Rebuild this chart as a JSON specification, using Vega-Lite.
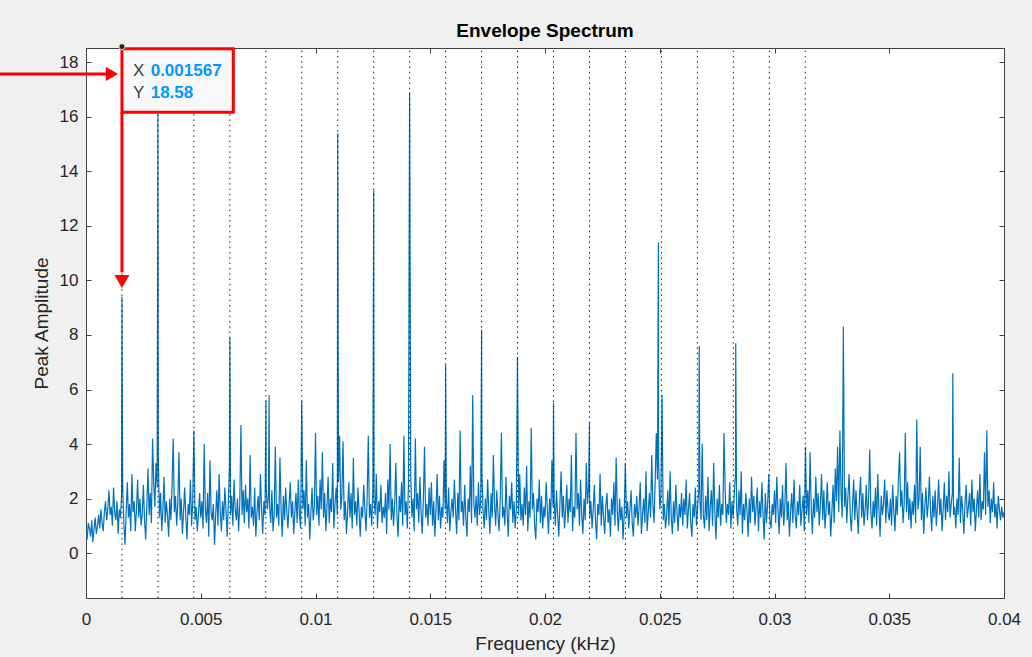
{
"$schema":"https://vega.github.io/schema/vega-lite/v6.json",
"width":918,"height":550,
"autosize":{"type":"none"},
"padding":{"left":86,"top":48,"right":28,"bottom":59},
"background":"#f0f0f0",
"title":{"text":"Envelope Spectrum","fontSize":19,"fontWeight":"bold","color":"#000000","font":"Liberation Sans","anchor":"middle","frame":"group","baseline":"alphabetic","offset":11,"dy":25},
"config":{"view":{"fill":"#ffffff","stroke":"#404040","strokeWidth":1},"axis":{"grid":false,"domain":false,"tickColor":"#404040","tickSize":-5,"tickWidth":1,"labelFont":"Liberation Sans","titleFont":"Liberation Sans","labelFontSize":17,"titleFontSize":19,"titleFontWeight":"normal","labelColor":"#262626","titleColor":"#262626","labelFlush":false,"labelOverlap":false}},
"datasets":{
"spec":[
{"f":0,"a":0.8},{"f":0.00005,"a":0.5},{"f":0.0001,"a":1.1},{"f":0.00015,"a":0.9},{"f":0.0002,"a":0.6},{"f":0.00025,"a":1.2},{"f":0.0003,"a":0.4},{"f":0.00035,"a":0.9},{"f":0.0004,"a":1.3},{"f":0.00045,"a":0.7},{"f":0.0005,"a":1.0},{"f":0.00055,"a":1.4},{"f":0.0006,"a":0.9},{"f":0.00065,"a":1.6},{"f":0.0007,"a":1.1},{"f":0.00075,"a":0.8},{"f":0.0008,"a":1.5},{"f":0.00085,"a":1.9},{"f":0.0009,"a":1.2},{"f":0.00095,"a":1.6},
{"f":0.001,"a":2.3},{"f":0.00105,"a":1.4},{"f":0.0011,"a":1.7},{"f":0.00115,"a":1.0},{"f":0.0012,"a":2.4},{"f":0.00125,"a":1.5},{"f":0.0013,"a":1.2},{"f":0.00135,"a":1.9},{"f":0.0014,"a":0.7},{"f":0.00145,"a":1.6},{"f":0.0015,"a":1.3},{"f":0.00155,"a":2.1},{"f":0.001567,"a":9.4},{"f":0.0016,"a":2.4},{"f":0.00165,"a":1.1},{"f":0.0017,"a":0.3},{"f":0.00175,"a":1.5},{"f":0.0018,"a":2.6},{"f":0.00185,"a":1.3},{"f":0.0019,"a":1.8},{"f":0.00195,"a":0.8},
{"f":0.002,"a":2.9},{"f":0.00205,"a":1.5},{"f":0.0021,"a":1.9},{"f":0.00215,"a":0.8},{"f":0.0022,"a":1.6},{"f":0.00225,"a":2.7},{"f":0.0023,"a":1.3},{"f":0.00235,"a":2.0},{"f":0.0024,"a":1.0},{"f":0.00245,"a":1.4},{"f":0.0025,"a":2.5},{"f":0.00255,"a":1.2},{"f":0.0026,"a":0.5},{"f":0.00265,"a":1.7},{"f":0.0027,"a":3.1},{"f":0.00275,"a":1.4},{"f":0.0028,"a":2.2},{"f":0.00285,"a":1.1},{"f":0.0029,"a":4.2},{"f":0.00295,"a":2.6},
{"f":0.003,"a":1.7},{"f":0.00305,"a":3.3},{"f":0.0031,"a":2.4},{"f":0.003134,"a":16.1},{"f":0.00315,"a":3.6},{"f":0.0032,"a":1.3},{"f":0.00325,"a":2.2},{"f":0.0033,"a":0.8},{"f":0.00335,"a":1.6},{"f":0.0034,"a":2.8},{"f":0.00345,"a":1.1},{"f":0.0035,"a":1.9},{"f":0.00355,"a":1.4},{"f":0.0036,"a":0.6},{"f":0.00365,"a":2.0},{"f":0.0037,"a":1.2},{"f":0.00375,"a":2.5},{"f":0.0038,"a":4.2},{"f":0.00385,"a":1.5},{"f":0.0039,"a":2.1},{"f":0.00395,"a":1.0},
{"f":0.004,"a":1.8},{"f":0.00405,"a":3.7},{"f":0.0041,"a":1.2},{"f":0.00415,"a":2.0},{"f":0.0042,"a":0.7},{"f":0.00425,"a":1.5},{"f":0.0043,"a":2.4},{"f":0.00435,"a":1.3},{"f":0.0044,"a":0.5},{"f":0.00445,"a":1.8},{"f":0.0045,"a":1.4},{"f":0.00455,"a":2.7},{"f":0.0046,"a":1.0},{"f":0.00465,"a":1.9},{"f":0.0047,"a":4.5},{"f":0.00475,"a":1.2},{"f":0.0048,"a":1.7},{"f":0.00485,"a":0.8},{"f":0.0049,"a":1.4},{"f":0.00495,"a":2.2},
{"f":0.005,"a":1.3},{"f":0.00505,"a":1.9},{"f":0.0051,"a":0.9},{"f":0.00515,"a":4.0},{"f":0.0052,"a":1.6},{"f":0.00525,"a":1.1},{"f":0.0053,"a":2.2},{"f":0.00535,"a":0.6},{"f":0.0054,"a":3.4},{"f":0.00545,"a":1.5},{"f":0.0055,"a":1.2},{"f":0.00555,"a":1.8},{"f":0.0056,"a":0.3},{"f":0.00565,"a":1.4},{"f":0.0057,"a":2.3},{"f":0.00575,"a":1.0},{"f":0.0058,"a":2.9},{"f":0.00585,"a":1.5},{"f":0.0059,"a":0.8},{"f":0.00595,"a":1.9},
{"f":0.006,"a":1.2},{"f":0.00605,"a":2.4},{"f":0.0061,"a":1.6},{"f":0.00615,"a":0.6},{"f":0.0062,"a":1.8},{"f":0.00625,"a":3.2},{"f":0.006268,"a":7.9},{"f":0.0063,"a":1.4},{"f":0.00635,"a":2.1},{"f":0.0064,"a":1.0},{"f":0.00645,"a":2.7},{"f":0.0065,"a":1.6},{"f":0.00655,"a":1.2},{"f":0.0066,"a":2.0},{"f":0.00665,"a":0.8},{"f":0.0067,"a":1.8},{"f":0.00675,"a":4.7},{"f":0.0068,"a":1.4},{"f":0.00685,"a":2.3},{"f":0.0069,"a":1.1},{"f":0.00695,"a":2.5},
{"f":0.007,"a":1.5},{"f":0.00705,"a":2.0},{"f":0.0071,"a":0.9},{"f":0.00715,"a":3.6},{"f":0.0072,"a":1.3},{"f":0.00725,"a":1.7},{"f":0.0073,"a":1.0},{"f":0.00735,"a":2.4},{"f":0.0074,"a":0.6},{"f":0.00745,"a":1.5},{"f":0.0075,"a":2.1},{"f":0.00755,"a":1.2},{"f":0.0076,"a":2.9},{"f":0.00765,"a":1.6},{"f":0.0077,"a":0.7},{"f":0.00775,"a":1.9},{"f":0.0078,"a":1.4},{"f":0.00784,"a":5.6},{"f":0.00785,"a":2.5},{"f":0.0079,"a":1.6},{"f":0.00795,"a":2.1},{"f":0.00798,"a":5.8},
{"f":0.008,"a":1.7},{"f":0.00805,"a":1.1},{"f":0.0081,"a":2.3},{"f":0.00815,"a":0.8},{"f":0.0082,"a":1.4},{"f":0.00825,"a":3.9},{"f":0.0083,"a":1.3},{"f":0.00835,"a":1.8},{"f":0.0084,"a":1.0},{"f":0.00845,"a":3.5},{"f":0.0085,"a":1.6},{"f":0.00855,"a":0.6},{"f":0.0086,"a":2.1},{"f":0.00865,"a":1.2},{"f":0.0087,"a":2.4},{"f":0.00875,"a":1.5},{"f":0.0088,"a":0.9},{"f":0.00885,"a":1.8},{"f":0.0089,"a":2.6},{"f":0.00895,"a":1.3},
{"f":0.009,"a":1.9},{"f":0.00905,"a":0.7},{"f":0.0091,"a":1.5},{"f":0.00915,"a":2.2},{"f":0.0092,"a":1.1},{"f":0.00925,"a":2.7},{"f":0.0093,"a":1.4},{"f":0.00935,"a":0.9},{"f":0.0094,"a":5.6},{"f":0.00945,"a":1.6},{"f":0.0095,"a":2.3},{"f":0.00955,"a":1.0},{"f":0.0096,"a":3.4},{"f":0.00965,"a":1.3},{"f":0.0097,"a":1.8},{"f":0.00975,"a":0.5},{"f":0.0098,"a":1.5},{"f":0.00985,"a":2.4},{"f":0.0099,"a":1.2},{"f":0.00995,"a":1.7},
{"f":0.01,"a":4.4},{"f":0.01005,"a":1.4},{"f":0.0101,"a":2.1},{"f":0.01015,"a":1.0},{"f":0.0102,"a":2.7},{"f":0.01025,"a":1.6},{"f":0.0103,"a":3.7},{"f":0.01035,"a":1.3},{"f":0.0104,"a":2.2},{"f":0.01045,"a":0.8},{"f":0.0105,"a":1.7},{"f":0.01055,"a":2.8},{"f":0.0106,"a":1.1},{"f":0.01065,"a":2.0},{"f":0.0107,"a":1.5},{"f":0.01075,"a":3.3},{"f":0.0108,"a":0.9},{"f":0.01085,"a":1.8},{"f":0.0109,"a":2.4},{"f":0.01095,"a":1.4},{"f":0.010969,"a":15.4},
{"f":0.011,"a":2.6},{"f":0.01105,"a":4.3},{"f":0.0111,"a":1.6},{"f":0.01115,"a":2.1},{"f":0.0112,"a":4.1},{"f":0.01125,"a":1.2},{"f":0.0113,"a":1.9},{"f":0.01135,"a":0.7},{"f":0.0114,"a":1.6},{"f":0.01145,"a":2.6},{"f":0.0115,"a":1.3},{"f":0.01155,"a":2.2},{"f":0.0116,"a":0.9},{"f":0.01165,"a":3.5},{"f":0.0117,"a":1.4},{"f":0.01175,"a":1.9},{"f":0.0118,"a":1.0},{"f":0.01185,"a":2.4},{"f":0.0119,"a":1.5},{"f":0.01195,"a":0.6},
{"f":0.012,"a":1.7},{"f":0.01205,"a":1.3},{"f":0.0121,"a":2.5},{"f":0.01215,"a":1.6},{"f":0.0122,"a":0.8},{"f":0.01225,"a":2.0},{"f":0.0123,"a":4.3},{"f":0.01235,"a":1.3},{"f":0.0124,"a":1.8},{"f":0.01245,"a":1.0},{"f":0.0125,"a":2.4},{"f":0.012536,"a":13.3},{"f":0.01255,"a":2.0},{"f":0.0126,"a":1.4},{"f":0.01265,"a":2.9},{"f":0.0127,"a":0.9},{"f":0.01275,"a":1.9},{"f":0.0128,"a":1.5},{"f":0.01285,"a":2.5},{"f":0.0129,"a":1.1},{"f":0.01295,"a":1.7},
{"f":0.013,"a":1.3},{"f":0.01305,"a":2.2},{"f":0.0131,"a":0.7},{"f":0.01315,"a":2.7},{"f":0.0132,"a":1.6},{"f":0.01325,"a":4.0},{"f":0.0133,"a":1.2},{"f":0.01335,"a":2.0},{"f":0.0134,"a":1.0},{"f":0.01345,"a":1.8},{"f":0.0135,"a":3.3},{"f":0.01355,"a":1.3},{"f":0.0136,"a":0.6},{"f":0.01365,"a":2.1},{"f":0.0137,"a":1.5},{"f":0.01375,"a":2.6},{"f":0.0138,"a":1.0},{"f":0.01385,"a":4.3},{"f":0.0139,"a":1.4},{"f":0.01395,"a":1.9},
{"f":0.014,"a":0.9},{"f":0.01405,"a":2.5},{"f":0.0141,"a":16.9},{"f":0.01415,"a":2.9},{"f":0.0142,"a":1.3},{"f":0.01425,"a":2.0},{"f":0.0143,"a":0.8},{"f":0.01435,"a":4.2},{"f":0.0144,"a":1.6},{"f":0.01445,"a":2.2},{"f":0.0145,"a":1.1},{"f":0.01455,"a":2.8},{"f":0.0146,"a":1.5},{"f":0.01465,"a":0.7},{"f":0.0147,"a":2.0},{"f":0.01475,"a":3.9},{"f":0.0148,"a":1.3},{"f":0.01485,"a":1.8},{"f":0.0149,"a":1.0},{"f":0.01495,"a":2.4},
{"f":0.015,"a":1.4},{"f":0.01505,"a":2.6},{"f":0.0151,"a":1.0},{"f":0.01515,"a":1.9},{"f":0.0152,"a":0.6},{"f":0.01525,"a":1.6},{"f":0.0153,"a":2.9},{"f":0.01535,"a":1.2},{"f":0.0154,"a":2.1},{"f":0.01545,"a":0.9},{"f":0.0155,"a":1.7},{"f":0.01555,"a":1.3},{"f":0.0156,"a":3.4},{"f":0.01565,"a":1.6},{"f":0.01567,"a":6.9},{"f":0.0157,"a":2.0},{"f":0.01575,"a":1.1},{"f":0.0158,"a":2.4},{"f":0.01585,"a":0.8},{"f":0.0159,"a":1.5},{"f":0.01595,"a":2.0},
{"f":0.016,"a":1.3},{"f":0.01605,"a":2.7},{"f":0.0161,"a":1.6},{"f":0.01615,"a":0.7},{"f":0.0162,"a":2.2},{"f":0.01625,"a":1.2},{"f":0.0163,"a":4.5},{"f":0.01635,"a":1.5},{"f":0.0164,"a":1.9},{"f":0.01645,"a":1.0},{"f":0.0165,"a":2.5},{"f":0.01655,"a":1.3},{"f":0.0166,"a":0.6},{"f":0.01665,"a":2.0},{"f":0.0167,"a":1.5},{"f":0.01675,"a":3.2},{"f":0.0168,"a":1.1},{"f":0.01685,"a":5.8},{"f":0.0169,"a":1.8},{"f":0.01695,"a":1.3},
{"f":0.017,"a":2.1},{"f":0.01705,"a":1.0},{"f":0.0171,"a":2.6},{"f":0.01715,"a":1.4},{"f":0.0172,"a":1.9},{"f":0.017237,"a":8.2},{"f":0.01725,"a":3.0},{"f":0.0173,"a":1.6},{"f":0.01735,"a":0.9},{"f":0.0174,"a":2.0},{"f":0.01745,"a":1.2},{"f":0.0175,"a":2.7},{"f":0.01755,"a":1.6},{"f":0.0176,"a":0.7},{"f":0.01765,"a":2.2},{"f":0.0177,"a":1.3},{"f":0.01775,"a":3.6},{"f":0.0178,"a":1.8},{"f":0.01785,"a":1.0},{"f":0.0179,"a":2.3},{"f":0.01795,"a":1.4},
{"f":0.018,"a":0.8},{"f":0.01805,"a":2.0},{"f":0.0181,"a":4.4},{"f":0.01815,"a":1.3},{"f":0.0182,"a":1.7},{"f":0.01825,"a":1.0},{"f":0.0183,"a":2.8},{"f":0.01835,"a":1.5},{"f":0.0184,"a":0.6},{"f":0.01845,"a":2.1},{"f":0.0185,"a":1.6},{"f":0.01855,"a":2.6},{"f":0.0186,"a":1.1},{"f":0.01865,"a":1.9},{"f":0.0187,"a":0.9},{"f":0.01875,"a":1.6},{"f":0.0188,"a":7.2},{"f":0.01885,"a":1.4},{"f":0.0189,"a":2.9},{"f":0.01895,"a":1.2},
{"f":0.019,"a":1.8},{"f":0.01905,"a":1.0},{"f":0.0191,"a":2.4},{"f":0.01915,"a":1.4},{"f":0.0192,"a":3.2},{"f":0.01925,"a":0.8},{"f":0.0193,"a":1.9},{"f":0.01935,"a":1.3},{"f":0.0194,"a":4.6},{"f":0.01945,"a":1.6},{"f":0.0195,"a":2.2},{"f":0.01955,"a":1.0},{"f":0.0196,"a":0.5},{"f":0.01965,"a":2.0},{"f":0.0197,"a":1.5},{"f":0.01975,"a":2.7},{"f":0.0198,"a":1.1},{"f":0.01985,"a":2.1},{"f":0.0199,"a":0.9},{"f":0.01995,"a":1.7},
{"f":0.02,"a":1.3},{"f":0.02005,"a":2.6},{"f":0.0201,"a":1.6},{"f":0.02015,"a":0.7},{"f":0.0202,"a":2.0},{"f":0.02025,"a":1.2},{"f":0.0203,"a":3.4},{"f":0.02035,"a":1.7},{"f":0.020371,"a":5.5},{"f":0.0204,"a":1.9},{"f":0.02045,"a":1.0},{"f":0.0205,"a":2.3},{"f":0.02055,"a":1.4},{"f":0.0206,"a":0.6},{"f":0.02065,"a":1.8},{"f":0.0207,"a":3.0},{"f":0.02075,"a":1.3},{"f":0.0208,"a":2.1},{"f":0.02085,"a":0.9},{"f":0.0209,"a":1.6},{"f":0.02095,"a":2.5},
{"f":0.021,"a":1.1},{"f":0.02105,"a":2.0},{"f":0.0211,"a":1.5},{"f":0.02115,"a":3.6},{"f":0.0212,"a":0.8},{"f":0.02125,"a":1.7},{"f":0.0213,"a":1.3},{"f":0.02135,"a":4.4},{"f":0.0214,"a":1.6},{"f":0.02145,"a":2.2},{"f":0.0215,"a":1.0},{"f":0.02155,"a":2.7},{"f":0.0216,"a":1.4},{"f":0.02165,"a":0.7},{"f":0.0217,"a":2.0},{"f":0.02175,"a":1.2},{"f":0.0218,"a":3.3},{"f":0.02185,"a":1.8},{"f":0.0219,"a":2.4},{"f":0.021938,"a":4.8},{"f":0.02195,"a":1.3},
{"f":0.022,"a":1.9},{"f":0.02205,"a":0.9},{"f":0.0221,"a":1.6},{"f":0.02215,"a":2.5},{"f":0.0222,"a":1.2},{"f":0.02225,"a":0.5},{"f":0.0223,"a":1.8},{"f":0.02235,"a":1.4},{"f":0.0224,"a":2.9},{"f":0.02245,"a":1.0},{"f":0.0225,"a":2.1},{"f":0.02255,"a":1.3},{"f":0.0226,"a":0.7},{"f":0.02265,"a":1.7},{"f":0.0227,"a":2.2},{"f":0.02275,"a":1.1},{"f":0.0228,"a":1.6},{"f":0.02285,"a":0.6},{"f":0.0229,"a":2.0},{"f":0.02295,"a":1.4},
{"f":0.023,"a":2.6},{"f":0.02305,"a":1.0},{"f":0.0231,"a":3.5},{"f":0.02315,"a":1.5},{"f":0.0232,"a":0.8},{"f":0.02325,"a":2.0},{"f":0.0233,"a":1.2},{"f":0.02335,"a":1.7},{"f":0.0234,"a":0.5},{"f":0.02345,"a":1.4},{"f":0.0235,"a":3.3},{"f":0.02355,"a":1.3},{"f":0.0236,"a":1.9},{"f":0.02365,"a":0.9},{"f":0.0237,"a":1.6},{"f":0.02375,"a":2.3},{"f":0.0238,"a":1.1},{"f":0.02385,"a":0.6},{"f":0.0239,"a":1.8},{"f":0.02395,"a":1.3},
{"f":0.024,"a":2.1},{"f":0.02405,"a":1.0},{"f":0.0241,"a":1.7},{"f":0.02415,"a":2.6},{"f":0.0242,"a":0.7},{"f":0.02425,"a":1.4},{"f":0.0243,"a":2.0},{"f":0.02435,"a":1.1},{"f":0.0244,"a":3.0},{"f":0.02445,"a":0.8},{"f":0.0245,"a":1.5},{"f":0.02455,"a":2.2},{"f":0.0246,"a":1.3},{"f":0.02465,"a":3.6},{"f":0.0247,"a":1.8},{"f":0.02475,"a":1.1},{"f":0.0248,"a":2.6},{"f":0.02485,"a":4.4},{"f":0.0249,"a":2.7},{"f":0.02494,"a":11.4},{"f":0.02495,"a":3.5},
{"f":0.025,"a":1.6},{"f":0.02505,"a":2.1},{"f":0.0251,"a":5.8},{"f":0.02515,"a":1.2},{"f":0.0252,"a":1.8},{"f":0.02525,"a":0.9},{"f":0.0253,"a":1.4},{"f":0.02535,"a":2.3},{"f":0.0254,"a":1.0},{"f":0.02545,"a":3.0},{"f":0.0255,"a":1.3},{"f":0.02555,"a":0.7},{"f":0.0256,"a":1.9},{"f":0.02565,"a":1.1},{"f":0.0257,"a":2.5},{"f":0.02575,"a":1.5},{"f":0.0258,"a":0.8},{"f":0.02585,"a":1.8},{"f":0.0259,"a":1.3},{"f":0.02595,"a":2.2},
{"f":0.026,"a":1.0},{"f":0.02605,"a":2.0},{"f":0.0261,"a":1.4},{"f":0.02615,"a":2.7},{"f":0.0262,"a":0.9},{"f":0.02625,"a":1.6},{"f":0.0263,"a":2.2},{"f":0.02635,"a":1.1},{"f":0.0264,"a":0.6},{"f":0.02645,"a":1.8},{"f":0.0265,"a":1.3},{"f":0.02655,"a":2.4},{"f":0.0266,"a":1.0},{"f":0.02665,"a":1.7},{"f":0.0267,"a":2.3},{"f":0.02672,"a":7.6},{"f":0.02675,"a":1.9},{"f":0.0268,"a":1.2},{"f":0.02685,"a":4.0},{"f":0.0269,"a":1.4},{"f":0.02695,"a":0.9},
{"f":0.027,"a":2.1},{"f":0.02705,"a":1.2},{"f":0.0271,"a":2.8},{"f":0.02715,"a":0.8},{"f":0.0272,"a":1.7},{"f":0.02725,"a":2.3},{"f":0.0273,"a":1.0},{"f":0.02735,"a":3.3},{"f":0.0274,"a":1.5},{"f":0.02745,"a":0.5},{"f":0.0275,"a":2.0},{"f":0.02755,"a":1.3},{"f":0.0276,"a":2.5},{"f":0.02765,"a":1.0},{"f":0.0277,"a":1.8},{"f":0.02775,"a":1.4},{"f":0.0278,"a":4.4},{"f":0.02785,"a":2.3},{"f":0.0279,"a":1.1},{"f":0.02795,"a":1.8},
{"f":0.028,"a":1.4},{"f":0.02805,"a":2.6},{"f":0.0281,"a":0.9},{"f":0.02815,"a":1.9},{"f":0.0282,"a":1.3},{"f":0.02825,"a":2.2},{"f":0.0283,"a":2.9},{"f":0.02831,"a":7.7},{"f":0.02835,"a":1.6},{"f":0.0284,"a":1.0},{"f":0.02845,"a":2.3},{"f":0.0285,"a":1.4},{"f":0.02855,"a":3.0},{"f":0.0286,"a":0.7},{"f":0.02865,"a":1.8},{"f":0.0287,"a":1.2},{"f":0.02875,"a":2.2},{"f":0.0288,"a":1.6},{"f":0.02885,"a":0.6},{"f":0.0289,"a":2.0},{"f":0.02895,"a":1.1},
{"f":0.029,"a":2.8},{"f":0.02905,"a":1.5},{"f":0.0291,"a":2.1},{"f":0.02915,"a":1.0},{"f":0.0292,"a":1.7},{"f":0.02925,"a":2.4},{"f":0.0293,"a":0.8},{"f":0.02935,"a":1.9},{"f":0.0294,"a":1.3},{"f":0.02945,"a":2.6},{"f":0.0295,"a":1.4},{"f":0.02955,"a":0.5},{"f":0.0296,"a":2.2},{"f":0.02965,"a":1.1},{"f":0.0297,"a":1.8},{"f":0.02975,"a":2.9},{"f":0.0298,"a":1.2},{"f":0.02985,"a":0.9},{"f":0.0299,"a":1.8},{"f":0.02995,"a":1.4},
{"f":0.03,"a":2.3},{"f":0.03005,"a":1.1},{"f":0.0301,"a":2.8},{"f":0.03015,"a":1.6},{"f":0.0302,"a":0.7},{"f":0.03025,"a":2.0},{"f":0.0303,"a":1.3},{"f":0.03035,"a":2.5},{"f":0.0304,"a":1.0},{"f":0.03045,"a":1.7},{"f":0.0305,"a":3.3},{"f":0.03055,"a":1.2},{"f":0.0306,"a":1.9},{"f":0.03065,"a":0.6},{"f":0.0307,"a":1.5},{"f":0.03075,"a":2.2},{"f":0.0308,"a":1.1},{"f":0.03085,"a":2.7},{"f":0.0309,"a":1.4},{"f":0.03095,"a":0.9},
{"f":0.031,"a":1.9},{"f":0.03105,"a":1.4},{"f":0.0311,"a":2.5},{"f":0.03115,"a":1.0},{"f":0.0312,"a":1.6},{"f":0.03125,"a":2.1},{"f":0.0313,"a":0.8},{"f":0.03135,"a":3.9},{"f":0.0314,"a":1.4},{"f":0.03145,"a":2.3},{"f":0.0315,"a":1.1},{"f":0.03155,"a":3.7},{"f":0.0316,"a":1.7},{"f":0.03165,"a":0.7},{"f":0.0317,"a":2.0},{"f":0.03175,"a":1.3},{"f":0.0318,"a":2.8},{"f":0.03185,"a":1.5},{"f":0.0319,"a":2.2},{"f":0.03195,"a":1.0},
{"f":0.032,"a":1.8},{"f":0.03205,"a":2.9},{"f":0.0321,"a":1.2},{"f":0.03215,"a":2.3},{"f":0.0322,"a":0.9},{"f":0.03225,"a":1.6},{"f":0.0323,"a":2.6},{"f":0.03235,"a":1.4},{"f":0.0324,"a":1.9},{"f":0.03245,"a":0.6},{"f":0.0325,"a":1.5},{"f":0.03255,"a":2.5},{"f":0.0326,"a":1.1},{"f":0.03265,"a":3.1},{"f":0.0327,"a":1.9},{"f":0.03275,"a":3.9},{"f":0.0328,"a":1.5},{"f":0.03285,"a":4.5},{"f":0.0329,"a":2.2},{"f":0.03295,"a":1.3},
{"f":0.033,"a":8.3},{"f":0.03305,"a":1.7},{"f":0.0331,"a":2.4},{"f":0.03315,"a":1.1},{"f":0.0332,"a":2.1},{"f":0.03325,"a":2.9},{"f":0.0333,"a":1.4},{"f":0.03335,"a":0.8},{"f":0.0334,"a":1.8},{"f":0.03345,"a":2.7},{"f":0.0335,"a":1.2},{"f":0.03355,"a":2.3},{"f":0.0336,"a":1.5},{"f":0.03365,"a":0.7},{"f":0.0337,"a":2.0},{"f":0.03375,"a":2.8},{"f":0.0338,"a":1.3},{"f":0.03385,"a":2.2},{"f":0.0339,"a":1.0},{"f":0.03395,"a":1.6},
{"f":0.034,"a":2.5},{"f":0.03405,"a":1.2},{"f":0.0341,"a":2.0},{"f":0.03415,"a":3.8},{"f":0.0342,"a":1.5},{"f":0.03425,"a":0.9},{"f":0.0343,"a":1.9},{"f":0.03435,"a":1.3},{"f":0.0344,"a":2.4},{"f":0.03445,"a":1.0},{"f":0.0345,"a":2.9},{"f":0.03455,"a":1.6},{"f":0.0346,"a":0.6},{"f":0.03465,"a":2.1},{"f":0.0347,"a":1.4},{"f":0.03475,"a":1.8},{"f":0.0348,"a":2.7},{"f":0.03485,"a":1.1},{"f":0.0349,"a":2.3},{"f":0.03495,"a":1.5},
{"f":0.035,"a":1.2},{"f":0.03505,"a":2.0},{"f":0.0351,"a":1.0},{"f":0.03515,"a":2.5},{"f":0.0352,"a":1.5},{"f":0.03525,"a":0.8},{"f":0.0353,"a":2.1},{"f":0.03535,"a":1.4},{"f":0.0354,"a":2.7},{"f":0.03545,"a":3.7},{"f":0.0355,"a":1.7},{"f":0.03555,"a":2.3},{"f":0.0356,"a":1.1},{"f":0.03565,"a":1.8},{"f":0.0357,"a":4.4},{"f":0.03575,"a":1.5},{"f":0.0358,"a":2.6},{"f":0.03585,"a":1.2},{"f":0.0359,"a":2.0},{"f":0.03595,"a":0.9},
{"f":0.036,"a":1.9},{"f":0.03605,"a":1.4},{"f":0.0361,"a":2.5},{"f":0.03615,"a":1.1},{"f":0.0362,"a":4.9},{"f":0.03625,"a":1.6},{"f":0.0363,"a":2.0},{"f":0.03635,"a":3.9},{"f":0.0364,"a":1.2},{"f":0.03645,"a":2.2},{"f":0.0365,"a":0.7},{"f":0.03655,"a":1.7},{"f":0.0366,"a":2.4},{"f":0.03665,"a":1.3},{"f":0.0367,"a":1.8},{"f":0.03675,"a":2.8},{"f":0.0368,"a":1.5},{"f":0.03685,"a":0.8},{"f":0.0369,"a":2.1},{"f":0.03695,"a":1.3},
{"f":0.037,"a":2.3},{"f":0.03705,"a":1.0},{"f":0.0371,"a":1.7},{"f":0.03715,"a":2.7},{"f":0.0372,"a":1.4},{"f":0.03725,"a":2.0},{"f":0.0373,"a":0.8},{"f":0.03735,"a":1.6},{"f":0.0374,"a":2.6},{"f":0.03745,"a":1.2},{"f":0.0375,"a":2.1},{"f":0.03755,"a":1.5},{"f":0.0376,"a":3.0},{"f":0.03765,"a":1.3},{"f":0.0377,"a":1.8},{"f":0.03775,"a":2.2},{"f":0.03777,"a":6.6},{"f":0.0378,"a":1.4},{"f":0.03785,"a":1.7},{"f":0.0379,"a":0.9},{"f":0.03795,"a":2.0},
{"f":0.038,"a":1.4},{"f":0.03805,"a":3.5},{"f":0.0381,"a":1.1},{"f":0.03815,"a":2.1},{"f":0.0382,"a":1.6},{"f":0.03825,"a":0.7},{"f":0.0383,"a":1.8},{"f":0.03835,"a":2.5},{"f":0.0384,"a":1.3},{"f":0.03845,"a":1.7},{"f":0.0385,"a":2.2},{"f":0.03855,"a":1.0},{"f":0.0386,"a":2.7},{"f":0.03865,"a":1.5},{"f":0.0387,"a":2.0},{"f":0.03875,"a":0.8},{"f":0.0388,"a":1.6},{"f":0.03885,"a":2.3},{"f":0.0389,"a":1.3},{"f":0.03895,"a":2.9},
{"f":0.039,"a":1.2},{"f":0.03905,"a":1.9},{"f":0.0391,"a":1.6},{"f":0.03915,"a":3.7},{"f":0.0392,"a":1.4},{"f":0.03925,"a":4.5},{"f":0.0393,"a":1.7},{"f":0.03935,"a":2.3},{"f":0.0394,"a":1.1},{"f":0.03945,"a":2.0},{"f":0.0395,"a":1.5},{"f":0.03955,"a":2.6},{"f":0.0396,"a":1.3},{"f":0.03965,"a":1.8},{"f":0.0397,"a":0.9},{"f":0.03975,"a":2.1},{"f":0.0398,"a":1.6},{"f":0.03985,"a":1.2},{"f":0.0399,"a":1.7},{"f":0.03995,"a":1.3},{"f":0.04,"a":1.5}
],
"harm":[{"f":0.001567},{"f":0.003134},{"f":0.004701},{"f":0.006268},{"f":0.007835},{"f":0.009402},{"f":0.010969},{"f":0.012536},{"f":0.014103},{"f":0.01567},{"f":0.017237},{"f":0.018804},{"f":0.020371},{"f":0.021938},{"f":0.023505},{"f":0.025072},{"f":0.026639},{"f":0.028206},{"f":0.029773},{"f":0.03134}],
"tip":[{"x":0.001567,"y":18.58}],
"one":[{}]
},
"layer":[
{"data":{"name":"spec"},"mark":{"type":"line","color":"#0072bd","strokeWidth":1.2,"clip":true},
 "encoding":{
  "x":{"field":"f","type":"quantitative","scale":{"domain":[0,0.04],"nice":false,"zero":false},"axis":{"orient":"bottom","values":[0,0.005,0.01,0.015,0.02,0.025,0.03,0.035,0.04],"format":"~g","labelPadding":18,"title":"Frequency (kHz)","titlePadding":7}},
  "y":{"field":"a","type":"quantitative","scale":{"domain":[-1.65,18.53],"nice":false,"zero":false},"axis":{"orient":"left","values":[0,2,4,6,8,10,12,14,16,18],"labelPadding":13,"title":"Peak Amplitude","titlePadding":8}}}},
{"data":{"name":"harm"},"mark":{"type":"rule","color":"#1a1a1a","strokeWidth":1,"strokeDash":[1.5,3.8],"clip":true},
 "encoding":{
  "x":{"field":"f","type":"quantitative","scale":{"domain":[0,0.04],"nice":false,"zero":false},"axis":{"orient":"top","values":[0,0.005,0.01,0.015,0.02,0.025,0.03,0.035,0.04],"labels":false,"title":null}},
  "y":{"datum":-1.65,"type":"quantitative","scale":{"domain":[-1.65,18.53],"nice":false,"zero":false},"axis":{"orient":"right","values":[0,2,4,6,8,10,12,14,16,18],"labels":false,"title":null}},
  "y2":{"datum":18.53}}},
{"data":{"name":"one"},"mark":{"type":"rect","fill":"#f8f8fb","stroke":"#ff0000","strokeWidth":3,"clip":false},
 "encoding":{"x":{"datum":0.001567,"type":"quantitative","axis":null},"x2":{"datum":0.006418},"y":{"datum":18.5,"type":"quantitative","axis":null},"y2":{"datum":16.17}}},
{"data":{"name":"tip"},"mark":{"type":"text","align":"left","baseline":"middle","fontSize":17,"font":"Liberation Sans","color":"#404040"},
 "encoding":{"x":{"datum":0.002048,"type":"quantitative","axis":null},"y":{"datum":17.7,"type":"quantitative","axis":null},"text":{"value":"X"}}},
{"data":{"name":"tip"},"mark":{"type":"text","align":"left","baseline":"middle","fontSize":17,"font":"Liberation Sans","fontWeight":"bold","color":"#0099ff"},
 "encoding":{"x":{"datum":0.002819,"type":"quantitative","axis":null},"y":{"datum":17.7,"type":"quantitative","axis":null},"text":{"field":"x","type":"quantitative","format":".6f"}}},
{"data":{"name":"tip"},"mark":{"type":"text","align":"left","baseline":"middle","fontSize":17,"font":"Liberation Sans","color":"#404040"},
 "encoding":{"x":{"datum":0.002048,"type":"quantitative","axis":null},"y":{"datum":16.87,"type":"quantitative","axis":null},"text":{"value":"Y"}}},
{"data":{"name":"tip"},"mark":{"type":"text","align":"left","baseline":"middle","fontSize":17,"font":"Liberation Sans","fontWeight":"bold","color":"#0099ff"},
 "encoding":{"x":{"datum":0.002819,"type":"quantitative","axis":null},"y":{"datum":16.87,"type":"quantitative","axis":null},"text":{"field":"y","type":"quantitative","format":".2f"}}},
{"data":{"name":"one"},"mark":{"type":"rule","color":"#ff0000","strokeWidth":3,"clip":false},
 "encoding":{"x":{"datum":-0.0038,"type":"quantitative","axis":null},"x2":{"datum":0.00108},"y":{"datum":17.58,"type":"quantitative","axis":null}}},
{"data":{"name":"one"},"mark":{"type":"point","shape":"triangle-right","filled":true,"color":"#ff0000","opacity":1,"size":200,"clip":false},
 "encoding":{"x":{"datum":0.001129,"type":"quantitative","axis":null},"y":{"datum":17.58,"type":"quantitative","axis":null}}},
{"data":{"name":"one"},"mark":{"type":"rule","color":"#ff0000","strokeWidth":3,"clip":false},
 "encoding":{"x":{"datum":0.001567,"type":"quantitative","axis":null},"y":{"datum":16.17,"type":"quantitative","axis":null},"y2":{"datum":10.3}}},
{"data":{"name":"one"},"mark":{"type":"point","shape":"triangle-down","filled":true,"color":"#ff0000","opacity":1,"size":225,"clip":false},
 "encoding":{"x":{"datum":0.001567,"type":"quantitative","axis":null},"y":{"datum":9.96,"type":"quantitative","axis":null}}},
{"data":{"name":"tip"},"mark":{"type":"point","filled":true,"fill":"#222222","stroke":"#e8e0a0","strokeWidth":1,"opacity":1,"size":36,"clip":false},
 "encoding":{"x":{"field":"x","type":"quantitative","axis":null},"y":{"field":"y","type":"quantitative","axis":null}}}
],
"resolve":{"axis":{"x":"independent","y":"independent"}}
}
